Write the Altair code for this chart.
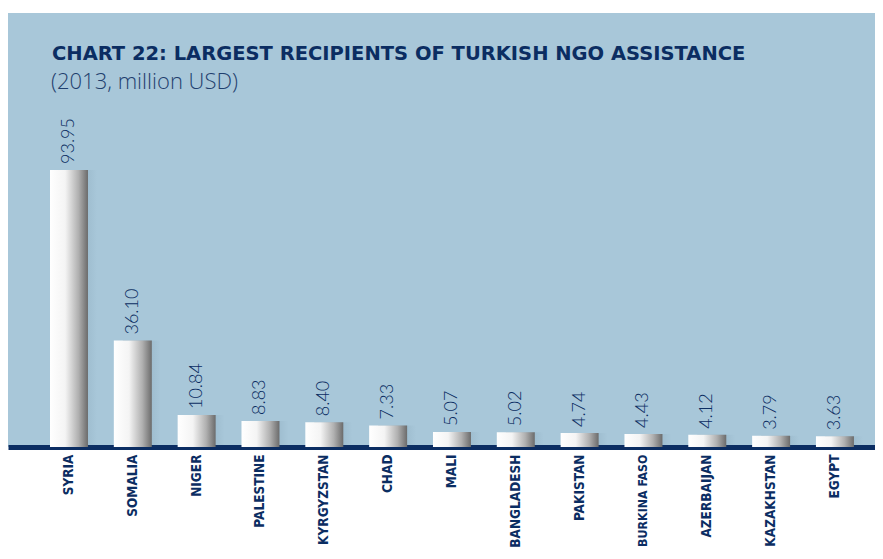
import altair as alt
import pandas as pd

countries = ["SYRIA", "SOMALIA", "NIGER", "PALESTINE", "KYRGYZSTAN", "CHAD", "MALI",
             "BANGLADESH", "PAKISTAN", "BURKINA FASO", "AZERBAIJAN", "KAZAKHSTAN", "EGYPT"]
values = [93.95, 36.10, 10.84, 8.83, 8.40, 7.33, 5.07, 5.02, 4.74, 4.43, 4.12, 3.79, 3.63]
title_text = "CHART 22: LARGEST RECIPIENTS OF TURKISH NGO ASSISTANCE"
subtitle_text = "(2013, million USD)"

NAVY = "#0b2d62"
PANEL = "#a8c7d9"

df = pd.DataFrame({"country": countries, "value": values})

x = alt.X("country:N", sort=countries,
          scale=alt.Scale(paddingInner=0.405, paddingOuter=0.494, align=0.666),
          axis=alt.Axis(title=None, labelAngle=270, ticks=False, labelPadding=7,
                        domainColor=NAVY, domainWidth=5, labelColor=NAVY,
                        labelFont="DejaVu Sans Condensed", labelFontWeight="bold",
                        labelFontSize={"condition": {"test": "datum.value == 'BURKINA FASO'",
                                                     "value": 12.3},
                                       "value": 13.5},
                        grid=False))
y = alt.Y("value:Q", scale=alt.Scale(domain=[0, 147.2], nice=False, zero=True),
          axis=None)

bar_grad = alt.LinearGradient(
    gradient="linear", x1=0, x2=1, y1=0, y2=0,
    stops=[alt.GradientStop(offset=0, color="#ffffff"),
           alt.GradientStop(offset=0.4, color="#f4f4f4"),
           alt.GradientStop(offset=0.75, color="#b0b0b0"),
           alt.GradientStop(offset=1, color="#6b6b6b")])

shadow_grad = alt.LinearGradient(
    gradient="linear", x1=0, x2=1, y1=0, y2=0,
    stops=[alt.GradientStop(offset=0, color="rgba(60,90,110,0.35)"),
           alt.GradientStop(offset=1, color="rgba(60,90,110,0)")])

base = alt.Chart(df)

shadow = base.mark_bar(color=shadow_grad, xOffset=9).encode(x=x, y=y)
bars = base.mark_bar(color=bar_grad).encode(x=x, y=y)
labels = base.mark_text(angle=270, align="left", baseline="middle", dx=6,
                        font="Lato", fontWeight=300, fontSize=18, color=NAVY).encode(
    x=x, y=y, text=alt.Text("value:Q", format=".2f"))

title = alt.Chart(pd.DataFrame({"t": [title_text]})).mark_text(
    align="left", baseline="alphabetic", font="DejaVu Sans", fontWeight="bold",
    fontSize=19.5, color=NAVY).encode(x=alt.value(44), y=alt.value(47), text="t:N")
subtitle = alt.Chart(pd.DataFrame({"t": [subtitle_text]})).mark_text(
    align="left", baseline="alphabetic", font="Open Sans", fontWeight=300,
    fontSize=22, color="#1f3f6e").encode(x=alt.value(43), y=alt.value(76), text="t:N")

chart = alt.layer(shadow, bars, labels, title, subtitle).properties(
    width=867, height=434,
    autosize=alt.AutoSizeParams(type="none"),
    padding={"left": 0, "top": 5, "right": 0, "bottom": 104},
    background="white",
).configure_view(fill=PANEL, stroke=None)

chart.save("out.html", embed_options={"renderer": "svg", "actions": False})
